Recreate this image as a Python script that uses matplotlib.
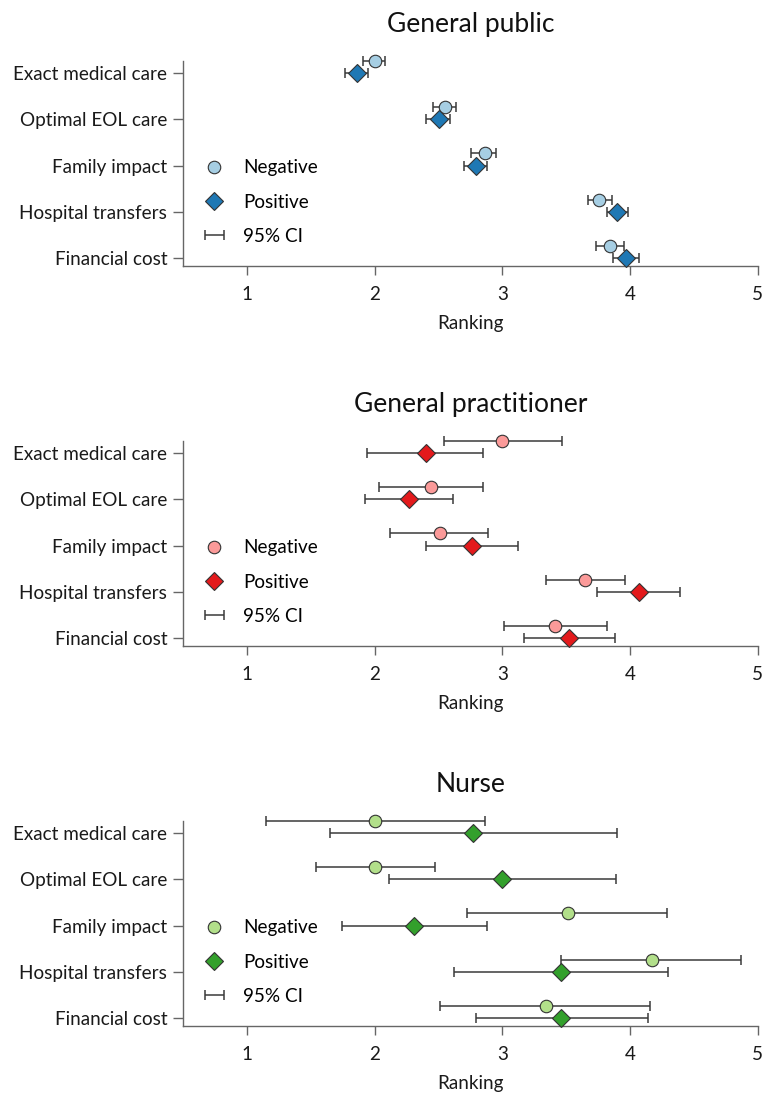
import matplotlib
matplotlib.use("Agg")
import matplotlib.pyplot as plt
import numpy as np

plt.rcParams['font.family'] = ['Lato', 'DejaVu Sans']

# ── DATA ──────────────────────────────────────────────────────────────────────
categories = ["Exact medical care", "Optimal EOL care", "Family impact",
              "Hospital transfers", "Financial cost"]

# General public
gp_neg_mean = [2.00, 2.55, 2.86, 3.76, 3.84]
gp_neg_lo = [1.91, 2.46, 2.75, 3.67, 3.73]
gp_neg_hi = [2.08, 2.64, 2.95, 3.86, 3.95]
gp_pos_mean = [1.86, 2.50, 2.79, 3.90, 3.97]
gp_pos_lo = [1.77, 2.40, 2.70, 3.82, 3.87]
gp_pos_hi = [1.95, 2.59, 2.88, 3.98, 4.07]

# General practitioner
gpr_neg_mean = [3.00, 2.44, 2.51, 3.65, 3.41]
gpr_neg_lo = [2.54, 2.03, 2.12, 3.34, 3.01]
gpr_neg_hi = [3.47, 2.85, 2.89, 3.96, 3.82]
gpr_pos_mean = [2.40, 2.27, 2.76, 4.07, 3.52]
gpr_pos_lo = [1.94, 1.92, 2.40, 3.74, 3.17]
gpr_pos_hi = [2.85, 2.61, 3.12, 4.39, 3.88]

# Nurse
nu_neg_mean = [2.00, 2.00, 3.51, 4.17, 3.34]
nu_neg_lo = [1.15, 1.54, 2.72, 3.46, 2.51]
nu_neg_hi = [2.86, 2.47, 4.29, 4.87, 4.16]
nu_pos_mean = [2.77, 3.00, 2.31, 3.46, 3.46]
nu_pos_lo = [1.65, 2.11, 1.74, 2.62, 2.79]
nu_pos_hi = [3.90, 3.89, 2.88, 4.30, 4.14]

panels = [
    ("General public", "#a6cee3", "#1f78b4",
     gp_neg_mean, gp_neg_lo, gp_neg_hi, gp_pos_mean, gp_pos_lo, gp_pos_hi),
    ("General practitioner", "#fb9a99", "#e31a1c",
     gpr_neg_mean, gpr_neg_lo, gpr_neg_hi, gpr_pos_mean, gpr_pos_lo, gpr_pos_hi),
    ("Nurse", "#b2df8a", "#33a02c",
     nu_neg_mean, nu_neg_lo, nu_neg_hi, nu_pos_mean, nu_pos_lo, nu_pos_hi),
]

# ── PLOT ──────────────────────────────────────────────────────────────────────
W, H = 765, 1097
fig = plt.figure(figsize=(W / 100, H / 100), dpi=100)

ax_left = 183.3 / W
ax_width = (757.7 - 183.3) / W
ax_height = 205 / H
panel_bottoms_px = [265.7, 645.7, 1025.7]

spine_col = "#666666"
err_col = "#3a3a3a"
edge_col = "#333333"
txt_col = "#1a1a1a"
fs = 13.6
y_pos = np.arange(len(categories))[::-1]   # first category on top
offset = 0.27

for (title, c_neg, c_pos, nm, nlo, nhi, pm, plo, phi), bpx in zip(panels, panel_bottoms_px):
    ax = fig.add_axes([ax_left, 1 - bpx / H, ax_width, ax_height])

    nm, nlo, nhi = np.array(nm), np.array(nlo), np.array(nhi)
    pm, plo, phi = np.array(pm), np.array(plo), np.array(phi)

    ci = ax.errorbar(nm, y_pos + offset, xerr=[nm - nlo, nhi - nm], fmt='none',
                     ecolor=err_col, elinewidth=1.1, capsize=3.6, capthick=1.1,
                     zorder=2, clip_on=False, label="95% CI")
    ax.errorbar(pm, y_pos, xerr=[pm - plo, phi - pm], fmt='none',
                ecolor=err_col, elinewidth=1.1, capsize=3.6, capthick=1.1,
                zorder=2, clip_on=False)
    neg = ax.plot(nm, y_pos + offset, 'o', ms=9, mfc=c_neg, mec=edge_col,
                  mew=0.8, ls='none', zorder=3, clip_on=False, label="Negative")[0]
    pos = ax.plot(pm, y_pos, 'D', ms=9.5, mfc=c_pos, mec=edge_col,
                  mew=0.8, ls='none', zorder=3, clip_on=False, label="Positive")[0]

    ax.set_xlim(0.5, 5.0)
    ax.set_ylim(-0.16, 4.27)
    ax.set_xticks([1, 2, 3, 4, 5])
    ax.set_yticks(y_pos)
    ax.set_yticklabels(categories)

    for side in ("top", "right"):
        ax.spines[side].set_visible(False)
    for side in ("left", "bottom"):
        ax.spines[side].set_color(spine_col)
        ax.spines[side].set_linewidth(1.0)

    ax.tick_params(axis='y', length=7, width=1.0, color=spine_col, pad=4.5,
                   labelsize=fs, labelcolor=txt_col)
    ax.tick_params(axis='x', length=6.5, width=1.0, color=spine_col, pad=8,
                   labelsize=fs, labelcolor=txt_col)
    ax.set_xlabel("Ranking", fontsize=fs, color=txt_col, labelpad=9)
    ax.set_title(title, fontsize=19, color="#111111", pad=21)

    ax.legend([neg, pos, ci], ["Negative", "Positive", "95% CI"],
              loc='center left', bbox_to_anchor=(0.035, 0.31), frameon=False,
              fontsize=fs, borderpad=0, borderaxespad=0, handlelength=1.17,
              handletextpad=0.95, labelspacing=0.92)

fig.savefig("out.png", dpi=100)
